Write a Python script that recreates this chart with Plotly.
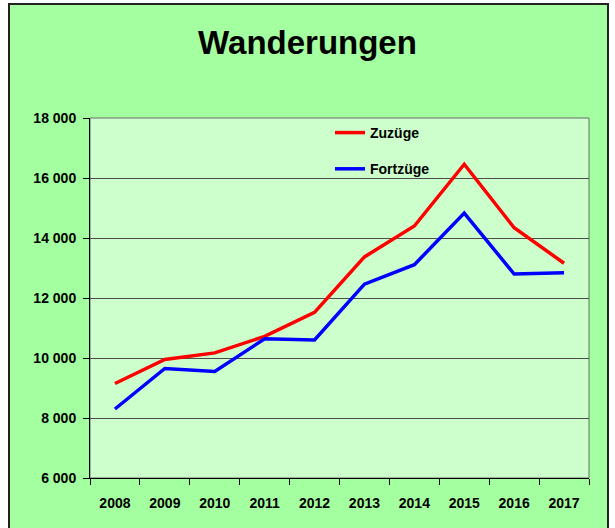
import plotly.graph_objects as go

years = ["2008", "2009", "2010", "2011", "2012", "2013", "2014", "2015", "2016", "2017"]
zuzuege = [9150, 9950, 10170, 10720, 11520, 13370, 14400, 16460, 14340, 13160]
fortzuege = [8300, 9650, 9550, 10640, 10600, 12460, 13110, 14830, 12800, 12840]
y_ticks = [6000, 8000, 10000, 12000, 14000, 16000, 18000]

W, H = 615, 528
L, R, T, B = 90, 26, 118, 50
pw, ph = W - L - R, H - T - B

def px_x(v):
    return (v - L) / pw

def px_y(v):
    # v = pixel distance from the top of the figure
    return (H - B - v) / ph

fig = go.Figure()
fig.add_trace(go.Scatter(x=years, y=zuzuege, mode="lines", name="<b>Zuzüge</b>",
                         line=dict(color="#ff0000", width=3.5), legendgroup="a"))
fig.add_trace(go.Scatter(x=years, y=fortzuege, mode="lines", name="<b>Fortzüge</b>",
                         line=dict(color="#0000ff", width=3.5), legendgroup="b"))

font_bold = "Liberation Sans, Arial, sans-serif"

fig.update_layout(
    width=W, height=H,
    margin=dict(l=L, r=R, t=T, b=B, autoexpand=False),
    paper_bgcolor="white",
    plot_bgcolor="#ccffcc",
    font=dict(family=font_bold, color="black", size=14),
    title=dict(text="<b>Wanderungen</b>", x=0.5, xref="container", xanchor="center",
               y=1 - 42 / H, yref="container", yanchor="middle",
               font=dict(size=33, family=font_bold, color="black")),
    showlegend=True,
    legend=dict(x=px_x(330), y=px_y(117), xanchor="left", yanchor="top",
                bgcolor="rgba(0,0,0,0)", borderwidth=0, tracegroupgap=15,
                font=dict(size=14, family=font_bold, color="black"),
                traceorder="grouped"),
    xaxis=dict(type="category", range=[-0.5, 9.5], tickson="boundaries",
               ticks="outside", ticklen=6, automargin=False,
               tickcolor="black", showline=True, linecolor="black", linewidth=1,
               showgrid=False, tickfont=dict(size=14, family=font_bold),
               ticklabelstandoff=12, fixedrange=True,
               tickvals=years, ticktext=["<b>%s</b>" % y for y in years]),
    yaxis=dict(range=[6000, 18000], tickvals=y_ticks, automargin=False,
               ticktext=["<b>%s</b>" % f"{v:,}".replace(",", " ") for v in y_ticks],
               ticks="outside", ticklen=6, tickcolor="black",
               showline=True, linecolor="black", linewidth=1,
               showgrid=True, gridcolor="#4d4d4d", gridwidth=1,
               zeroline=False, tickfont=dict(size=14, family=font_bold),
               ticklabelstandoff=4, fixedrange=True),
    shapes=[
        dict(type="rect", xref="paper", yref="paper",
             x0=px_x(9), x1=px_x(608), y0=px_y(H + 2), y1=px_y(4),
             fillcolor="#a3ff9f", line=dict(color="#222222", width=2), layer="below"),
        dict(type="rect", xref="paper", yref="paper", x0=0, x1=1, y0=0, y1=1,
             fillcolor="#ccffcc", line=dict(color="#6b6b6b", width=1), layer="below"),
    ],
)

fig.write_html("out.html", config={"displayModeBar": False},
               post_script="document.body.style.margin='0px';document.body.style.overflow='hidden';")
